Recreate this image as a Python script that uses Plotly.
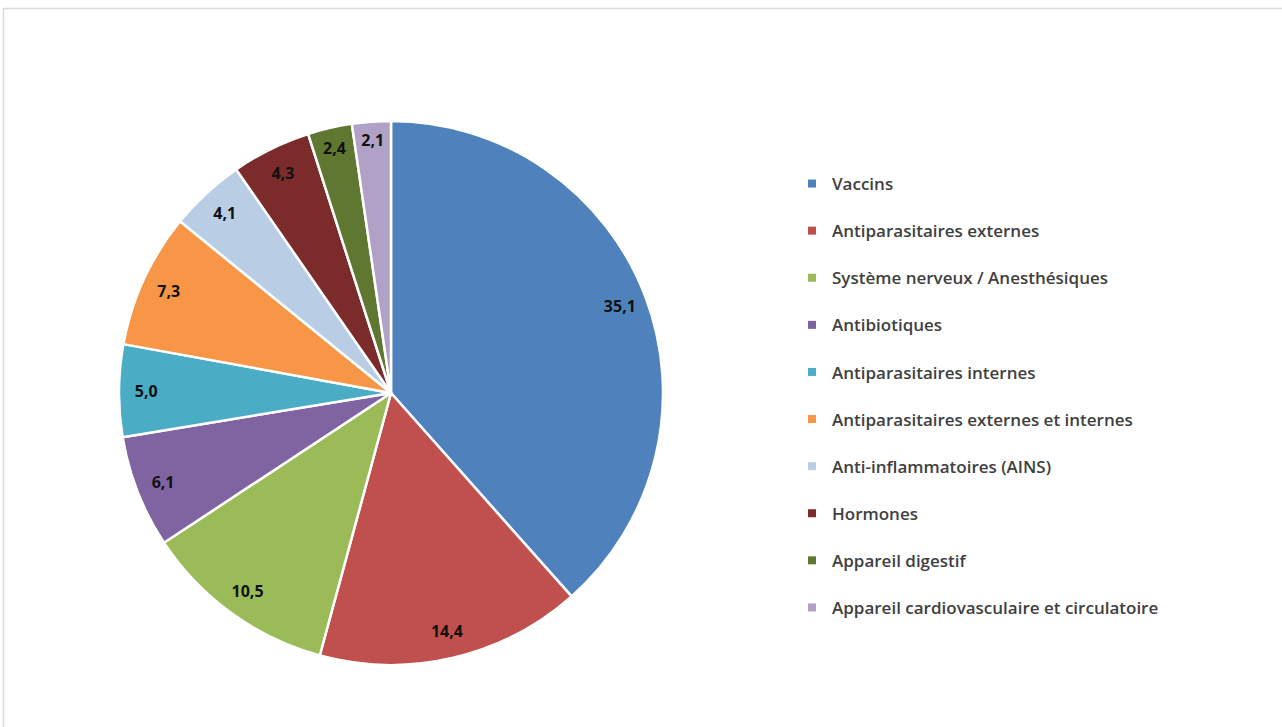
import plotly.graph_objects as go

categories = [
    "Vaccins",
    "Antiparasitaires externes",
    "Système nerveux / Anesthésiques",
    "Antibiotiques",
    "Antiparasitaires internes",
    "Antiparasitaires externes et internes",
    "Anti-inflammatoires (AINS)",
    "Hormones",
    "Appareil digestif",
    "Appareil cardiovasculaire et circulatoire",
]
values = [35.1, 14.4, 10.5, 6.1, 5.0, 7.3, 4.1, 4.3, 2.4, 2.1]
colors = [
    "#4F81BD", "#C0504D", "#9BBB59", "#8064A2", "#4BACC6",
    "#F79646", "#B9CDE5", "#7B2C2A", "#5F7731", "#B2A1C7",
]

labels_txt = [f"{v:.1f}".replace(".", ",") for v in values]

W, H = 1282, 727
cx, cy, r = 391, 393, 272
dom = dict(x=[(cx - r) / W, (cx + r) / W], y=[(H - cy - r) / H, (H - cy + r) / H])

fig = go.Figure()
# the coloured slices
fig.add_trace(go.Pie(
    labels=categories,
    values=values,
    textinfo="none",
    marker=dict(colors=colors, line=dict(color="white", width=2.5)),
    sort=False,
    direction="clockwise",
    rotation=0,
    showlegend=False,
    hovertext=labels_txt,
    hoverinfo="label+text",
    domain=dom,
))
# transparent ring on top, only to put the value labels near the outer edge
fig.add_trace(go.Pie(
    labels=categories,
    values=values,
    text=labels_txt,
    textinfo="text",
    textposition="inside",
    insidetextorientation="horizontal",
    textfont=dict(family="Open Sans", size=16, color="#111111", weight="bold"),
    marker=dict(colors=["rgba(0,0,0,0)"] * len(values), line=dict(width=0)),
    hole=0.8,
    sort=False,
    direction="clockwise",
    rotation=0,
    showlegend=False,
    hoverinfo="skip",
    domain=dom,
))

# legend entries, one group each so the spacing can match
for name, col in zip(categories, colors):
    fig.add_trace(go.Scatter(
        x=[None], y=[None], mode="markers", name=name, legendgroup=name,
        marker=dict(symbol="square", size=8, color=col),
    ))

fig.add_shape(type="rect", xref="paper", yref="paper",
              x0=3.5 / W, x1=1.02, y0=-0.02, y1=1 - 8.5 / H,
              line=dict(color="#d9d9d9", width=1.5))

fig.update_xaxes(visible=False)
fig.update_yaxes(visible=False)
fig.update_layout(
    width=W, height=H,
    margin=dict(l=0, r=0, t=0, b=0),
    paper_bgcolor="white", plot_bgcolor="white",
    legend=dict(
        x=792 / W, y=1 - 166 / H, xanchor="left", yanchor="top",
        font=dict(family="Open Sans", size=17, color="#404040", weight=600),
        tracegroupgap=22, itemwidth=30,
    ),
)

fig.write_html("out.html", config={"displayModeBar": False},
               post_script="document.body.style.margin='0';")
